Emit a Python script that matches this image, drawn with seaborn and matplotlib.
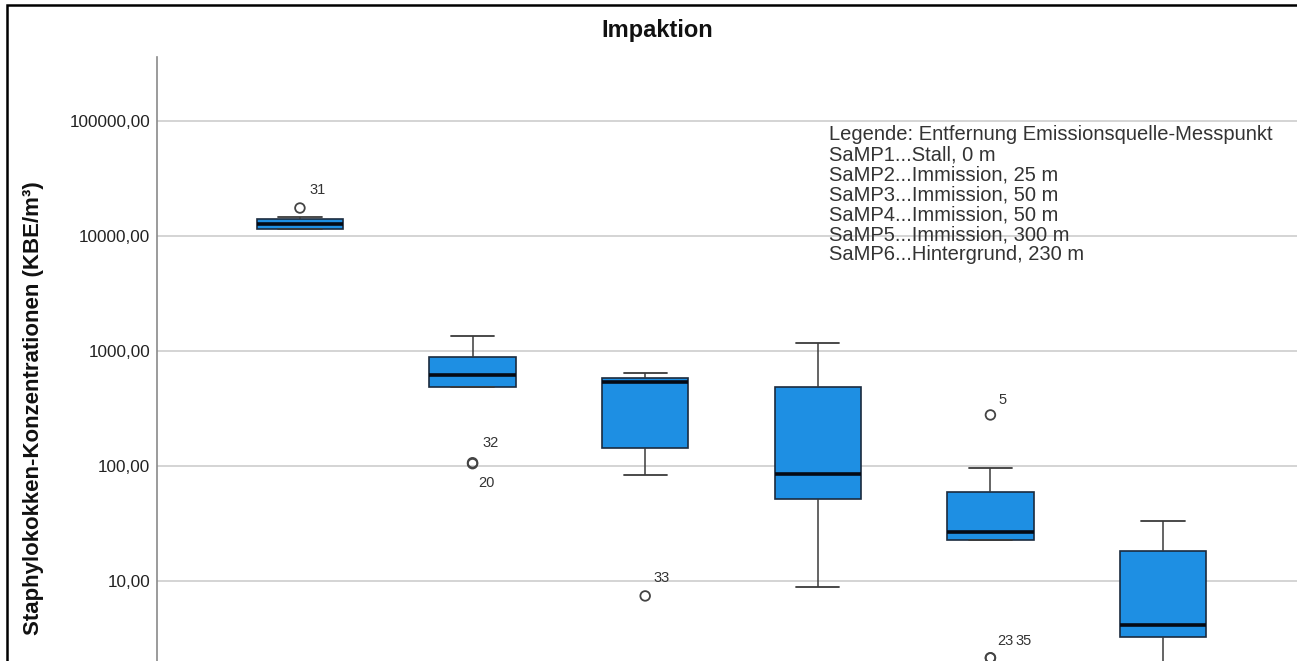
"""
Impaktion boxplot: Staphylokokken-Konzentrationen je Messpunkt (log scale),
SPSS-style figure rebuilt with seaborn.
"""

import numpy as np
import pandas as pd
import matplotlib
matplotlib.use("Agg")
import matplotlib.pyplot as plt
import matplotlib.ticker as mticker
from matplotlib.patches import Rectangle
import seaborn as sns

# ── Data ──────────────────────────────────────────────────────────────────────
MESSPUNKTE = ["SaMP1", "SaMP2", "SaMP3", "SaMP4", "SaMP5", "SaMP6"]

# five-number summaries per box (whisker ends, quartiles, median), KBE/m³
WHISKER_LOW = [11430, 483, 83.0, 8.8, 22.6, 1.0]
Q1 = [11430, 483, 142.6, 51.3, 22.6, 3.24]
MEDIAN = [12640, 615, 534, 84.7, 26.5, 4.12]
Q3 = [13960, 881, 579, 483, 59.0, 18.1]
WHISKER_HIGH = [14550, 1343, 640, 1167, 95.5, 33.0]

# outliers (circles) with their case numbers
OUTLIER_GROUP = ["SaMP1", "SaMP2", "SaMP2", "SaMP3", "SaMP5", "SaMP5", "SaMP5"]
OUTLIER_VALUE = [17400, 106, 104, 7.36, 276, 2.13, 2.13]
OUTLIER_CASE = ["31", "32", "20", "33", "5", "23", "35"]

YTICKS = [10, 100, 1000, 10000, 100000]

LEGEND_LINES = [
    "Legende: Entfernung Emissionsquelle-Messpunkt",
    "SaMP1...Stall, 0 m",
    "SaMP2...Immission, 25 m",
    "SaMP3...Immission, 50 m",
    "SaMP4...Immission, 50 m",
    "SaMP5...Immission, 300 m",
    "SaMP6...Hintergrund, 230 m",
]

# ── Style ─────────────────────────────────────────────────────────────────────
BOX_FILL = "#1E8FE3"
BOX_EDGE = "#1B2B3E"
LINE = "#3A3A3A"
GRID = "#C9C9C9"
TEXT = "#222222"

sns.set_style("white")
plt.rcParams["font.family"] = ["Liberation Sans", "DejaVu Sans"]

# long table: five rows per box -> quartiles land exactly on the values
rows = []
for i, mp in enumerate(MESSPUNKTE):
    for v in (WHISKER_LOW[i], Q1[i], MEDIAN[i], Q3[i], WHISKER_HIGH[i]):
        rows.append({"messpunkt": mp, "kbe": v})
df = pd.DataFrame(rows)

W, H = 1297, 661
fig = plt.figure(figsize=(W / 100, H / 100), dpi=100)
ax = fig.add_axes([157 / W, 0, (W - 157) / W, (H - 57) / H])

ax.set_yscale("log")
for t in YTICKS:
    ax.axhline(t, color=GRID, lw=1.1, zorder=0)

sns.boxplot(
    data=df, x="messpunkt", y="kbe", order=MESSPUNKTE, ax=ax,
    width=0.5, whis=(0, 100), showfliers=False,
    color=BOX_FILL, saturation=1, linecolor=BOX_EDGE, linewidth=1.2,
    medianprops={"color": "#050A14", "linewidth": 2.6},
    whiskerprops={"color": LINE, "linewidth": 1.1},
    capprops={"color": LINE, "linewidth": 1.3},
    capwidths=0.25,
)

# outliers: hollow circles + case labels
pos = {mp: i for i, mp in enumerate(MESSPUNKTE)}
ox = [pos[g] for g in OUTLIER_GROUP]
ax.scatter(ox, OUTLIER_VALUE, s=48, facecolors="none", edgecolors="#444444",
           linewidths=1.3, zorder=5, clip_on=False)

label_offsets = {"31": (7, 8, "bottom"), "32": (7, 9, "bottom"),
                 "20": (4, -9, "top"), "33": (6, 8, "bottom"),
                 "5": (6, 6, "bottom"), "23": (5, 7, "bottom"),
                 "35": (18, 7, "bottom")}
for x, y, case in zip(ox, OUTLIER_VALUE, OUTLIER_CASE):
    dx, dy, va = label_offsets[case]
    ax.annotate(case, (x, y), xytext=(dx, dy), textcoords="offset points",
                ha="left", va=va, fontsize=10.5, color="#333333")

# axes
ax.set_xlim(-0.828, 5.776)
ax.set_ylim(2.0, 358000)
ax.yaxis.set_major_locator(mticker.FixedLocator(YTICKS))
ax.yaxis.set_minor_locator(mticker.NullLocator())
ax.yaxis.set_major_formatter(
    mticker.FuncFormatter(lambda v, _: f"{v:.2f}".replace(".", ","))
)
ax.tick_params(axis="y", length=2, color="#888888", labelsize=12.3,
               labelcolor=TEXT, pad=3)
ax.tick_params(axis="x", bottom=False, labelbottom=False)
ax.set_xlabel("")
ax.set_ylabel("")
for side in ("top", "right", "bottom"):
    ax.spines[side].set_visible(False)
ax.spines["left"].set_color("#8A8A8A")
ax.spines["left"].set_linewidth(1.2)

# y label (the plot is cut off at the bottom, so place it by hand)
fig.text(34 / W, 1 - 408 / H, "Staphylokokken-Konzentrationen (KBE/m³)",
         rotation=90, ha="center", va="center", fontsize=16,
         fontweight="bold", color="#111111")

# title and text legend
fig.text(657 / W, 1 - 30 / H, "Impaktion", ha="center", va="center",
         fontsize=17, fontweight="bold", color="#111111")
fig.text(829 / W, 1 - 125 / H, "\n".join(LEGEND_LINES), ha="left", va="top",
         fontsize=14.5, color="#333333", linespacing=1.07)

# screenshot frame
fig.patches.append(Rectangle((7 / W, -0.05), 1.1, 1.05 - 5 / H,
                             transform=fig.transFigure, fill=False,
                             edgecolor="black", linewidth=1.8, zorder=10))

fig.savefig("out.png", dpi=100)
